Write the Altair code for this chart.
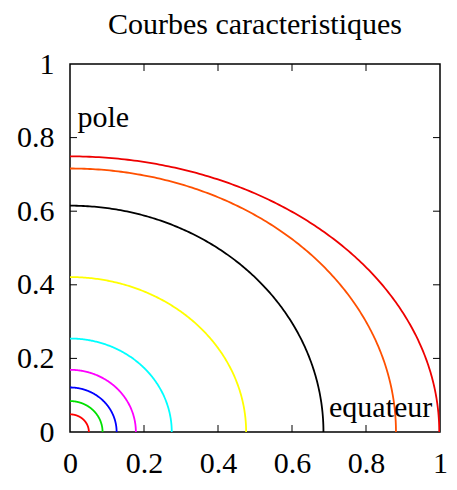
import altair as alt
import numpy as np
import pandas as pd

# Radii of the characteristic curves (quarter ellipses): x-intercept, y-intercept
curve_ids = ["c1", "c2", "c3", "c4", "c5", "c6", "c7", "c8", "c9"]
x_radii = [0.051, 0.088, 0.126, 0.178, 0.275, 0.476, 0.685, 0.881, 0.998]
y_radii = [0.048, 0.084, 0.121, 0.169, 0.254, 0.421, 0.615, 0.716, 0.749]
curve_colors = ["#ff0000", "#00e000", "#0000ff", "#ff00ff", "#00ffff",
                "#ffff00", "#000000", "#ff5000", "#ee0000"]

tick_values = [0, 0.2, 0.4, 0.6, 0.8, 1]
inner_ticks = [0.2, 0.4, 0.6, 0.8]

label_texts = ["pole", "equateur"]
label_x = [0.02, 0.70]
label_y = [0.83, 0.04]

W = 370
H = 368
FONT = "Liberation Serif"

# geometric rendering of each ellipse from its radii
angles = np.linspace(0, np.pi / 2, 181)
rows = []
for cid, a, b in zip(curve_ids, x_radii, y_radii):
    for i, t in enumerate(angles):
        rows.append({"curve": cid, "x": a * np.cos(t), "y": b * np.sin(t), "o": i})
curves_df = pd.DataFrame(rows)

xs = alt.Scale(domain=[0, 1], nice=False, zero=False)
ys = alt.Scale(domain=[0, 1], nice=False, zero=False)

axis_common = dict(values=tick_values, format="~g", labelFont=FONT, labelFontSize=30,
                   labelColor="black", ticks=False, domain=False, grid=False,
                   labelFlush=False, title=None)

lines = alt.Chart(curves_df).mark_line(strokeWidth=1.8, clip=True).encode(
    x=alt.X("x:Q", scale=xs, axis=alt.Axis(labelPadding=16, **axis_common)),
    y=alt.Y("y:Q", scale=ys, axis=alt.Axis(labelPadding=16, **axis_common)),
    color=alt.Color("curve:N", scale=alt.Scale(domain=curve_ids, range=curve_colors), legend=None),
    detail="curve:N",
    order="o:Q",
)

ticks_df = pd.DataFrame({"v": inner_ticks})
tick_bottom = alt.Chart(ticks_df).mark_rule(color="black", strokeWidth=1).encode(
    x=alt.X("v:Q", scale=xs), y=alt.value(H), y2=alt.value(H - 7))
tick_top = alt.Chart(ticks_df).mark_rule(color="black", strokeWidth=1).encode(
    x=alt.X("v:Q", scale=xs), y=alt.value(0), y2=alt.value(7))
tick_left = alt.Chart(ticks_df).mark_rule(color="black", strokeWidth=1).encode(
    y=alt.Y("v:Q", scale=ys), x=alt.value(0), x2=alt.value(7))
tick_right = alt.Chart(ticks_df).mark_rule(color="black", strokeWidth=1).encode(
    y=alt.Y("v:Q", scale=ys), x=alt.value(W), x2=alt.value(W - 7))

labels_df = pd.DataFrame({"t": label_texts, "x": label_x, "y": label_y})
labels = alt.Chart(labels_df).mark_text(
    font=FONT, fontSize=30, align="left", baseline="alphabetic", color="black"
).encode(x=alt.X("x:Q", scale=xs), y=alt.Y("y:Q", scale=ys), text="t:N")

chart = alt.layer(lines, tick_bottom, tick_top, tick_left, tick_right, labels).properties(
    width=W, height=H,
    title=alt.TitleParams("Courbes caracteristiques", font=FONT, fontSize=30,
                          fontWeight="normal", color="black", anchor="middle", offset=9),
    autosize=alt.AutoSizeParams(type="none"),
    padding={"left": 62, "top": 56, "right": 8, "bottom": 48},
).configure_view(stroke="black", strokeWidth=1.5)

chart.save("out.html", embed_options={"renderer": "svg", "actions": False})
